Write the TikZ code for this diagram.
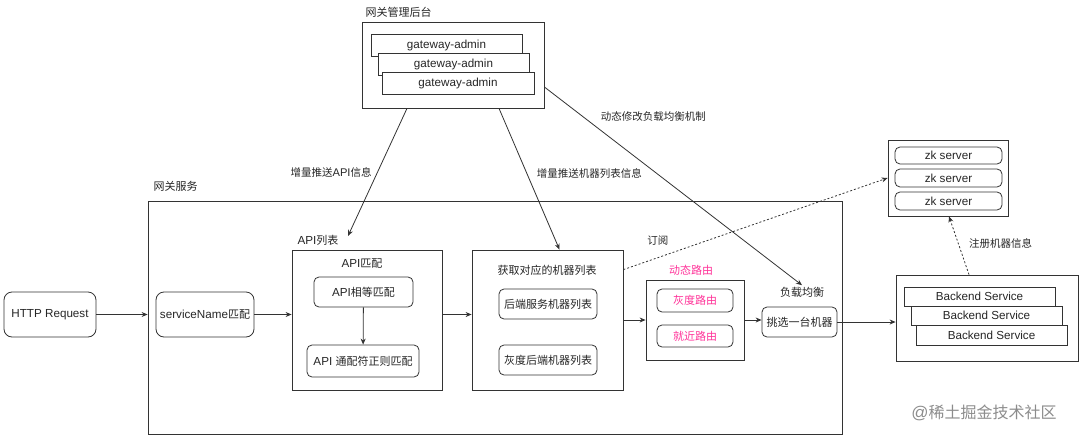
\documentclass[tikz,border=0pt]{standalone}
\usepackage{fontspec}
\setmainfont{Liberation Sans}[Scale=1.06]
\newfontfamily\cjkfont{Noto Sans CJK SC}
\newcommand{\zh}[1]{{\cjkfont #1}}
\usepackage{xcolor}
\usetikzlibrary{arrows.meta}

\definecolor{routepink}{HTML}{FF3399}
\definecolor{framegray}{HTML}{333333}

\tikzset{
  box/.style={draw=framegray, line width=0.8pt, fill=white, inner sep=0pt},
  rbox/.style={box, rounded corners=5pt},
  lbl/.style={font=\fontsize{10.5}{12}\selectfont},
  dotline/.style={dash pattern=on 2pt off 2pt}
}

\begin{document}
\begin{tikzpicture}[x=1pt, y=-1pt, >={Stealth[length=6pt,width=5pt]},
    every node/.append style={font=\fontsize{11}{13}\selectfont, text=black!85}]
    \useasboundingbox (0,0) rectangle (1080,439);

    % Admin backend
    \node[anchor=west] (admintitle) at (362,12) {\zh{网关管理后台}};
    \node[box, minimum width=182pt, minimum height=86pt] (admin) at (453,65) {};
    \node[box, minimum width=151pt, minimum height=22pt] (ga1) at (446.5,45) {gateway-admin};
    \node[box, minimum width=151pt, minimum height=22pt] (ga2) at (453.5,64) {gateway-admin};
    \node[box, minimum width=152pt, minimum height=22pt] (ga3) at (458,83) {gateway-admin};

    % Gateway service frame
    \node[anchor=west] (gwtitle) at (150,186) {\zh{网关服务}};
    \node[box, fill=none, minimum width=694pt, minimum height=233pt] (gw) at (495,317.5) {};

    \node[rbox, rounded corners=8pt, minimum width=92pt, minimum height=45pt] (http) at (50,314.5) {HTTP Request};
    \node[rbox, rounded corners=8pt, minimum width=98pt, minimum height=45pt] (svc) at (205,314.5) {serviceName\zh{匹配}};

    % API list
    \node (apititle) at (318,240) {API\zh{列表}};
    \node[box, minimum width=150pt, minimum height=140pt] (apilist) at (367,320) {};
    \node (apimatch) at (362,264) {API\zh{匹配}};
    \node[rbox, minimum width=99pt, minimum height=30pt] (apieq) at (363.5,292) {API\zh{相等匹配}};
    \node[rbox, minimum width=112pt, minimum height=32pt] (apiwild) at (363,361) {API \zh{通配符正则匹配}};

    % Machine list
    \node[box, minimum width=151pt, minimum height=140pt] (fetch) at (547.5,320) {};
    \node (fetchtitle) at (547,270) {\zh{获取对应的机器列表}};
    \node[rbox, minimum width=98pt, minimum height=30pt] (backlist) at (548,304) {\zh{后端服务机器列表}};
    \node[rbox, minimum width=98pt, minimum height=30pt] (graylist) at (548,360) {\zh{灰度后端机器列表}};

    % Dynamic routing
    \node[text=routepink] (routetitle) at (691,270) {\zh{动态路由}};
    \node[box, minimum width=98pt, minimum height=80pt] (route) at (695,320) {};
    \node[rbox, text=routepink, minimum width=76pt, minimum height=23pt] (grayroute) at (695,300.5) {\zh{灰度路由}};
    \node[rbox, text=routepink, minimum width=76pt, minimum height=22pt] (nearroute) at (695,336) {\zh{就近路由}};

    % Load balance
    \node (lbtitle) at (802,292) {\zh{负载均衡}};
    \node[rbox, minimum width=75pt, minimum height=30pt] (pick) at (799.5,322) {\zh{挑选一台机器}};

    % Backend services
    \node[box, minimum width=182pt, minimum height=86pt] (backend) at (987,318) {};
    \node[box, minimum width=151pt, minimum height=19pt] (be1) at (979.5,296.5) {Backend Service};
    \node[box, minimum width=151pt, minimum height=19pt] (be2) at (986.5,315.5) {Backend Service};
    \node[box, minimum width=151pt, minimum height=20pt] (be3) at (991.5,335) {Backend Service};

    % zk cluster
    \node[box, minimum width=120pt, minimum height=76pt] (zk) at (948,178) {};
    \node[rbox, minimum width=107pt, minimum height=17pt] (zk1) at (948.5,155.5) {zk server};
    \node[rbox, minimum width=107pt, minimum height=18pt] (zk2) at (948.5,178) {zk server};
    \node[rbox, minimum width=107pt, minimum height=18pt] (zk3) at (948.5,201) {zk server};

    % Request flow
    \draw[->,line width=0.8pt,framegray] (http) -- (http -| gw.west);
    \draw[->,line width=0.8pt,framegray] (svc) -- (svc -| apilist.west);
    \draw[->,line width=0.8pt,framegray] (apilist.east |- svc) -- (fetch.west |- svc);
    \draw[->,line width=0.8pt,framegray] (apieq) -- (apiwild);
    \draw[->,line width=0.8pt,framegray] (fetch) -- (route);
    \draw[->,line width=0.8pt,framegray] (route.east) -- (pick.west |- route.east);
    \draw[->,line width=0.8pt,framegray] (pick.east) -- (pick.east -| backend.west);

    % Pushes from admin
    \draw[->,line width=0.8pt,framegray] ([xshift=-46pt]admin.south) -- ([xshift=30pt,yshift=4pt]apititle.center)
        node[lbl, pos=0.5, left=2pt] {\zh{增量推送}API\zh{信息}};
    \draw[->,line width=0.8pt,framegray] ([xshift=46pt]admin.south) -- ([xshift=12pt]fetch.north)
        node[lbl, pos=0.46, right=6pt] {\zh{增量推送机器列表信息}};
    \draw[->,line width=0.8pt,framegray] ([yshift=-22pt]admin.east) -- ([yshift=-2pt]lbtitle.north)
        node[lbl, pos=0.15, right=14pt] {\zh{动态修改负载均衡机制}};

    % Registry
    \draw[->,line width=0.8pt,framegray,dotline] ([yshift=-20pt]fetch.north east) -- (zk.west)
        node[lbl, pos=0.13, above=8pt] {\zh{订阅}};
    \draw[->,line width=0.8pt,framegray,dotline] ([xshift=-18pt]backend.north) -- ([xshift=1pt]zk.south)
        node[lbl, pos=0.54, right=7pt] {\zh{注册机器信息}};

    % Watermark
    \node[text=black!45, font=\fontsize{16}{18}\selectfont] (mark) at (984,413) {@\zh{稀土掘金技术社区}};
\end{tikzpicture}
\end{document}
